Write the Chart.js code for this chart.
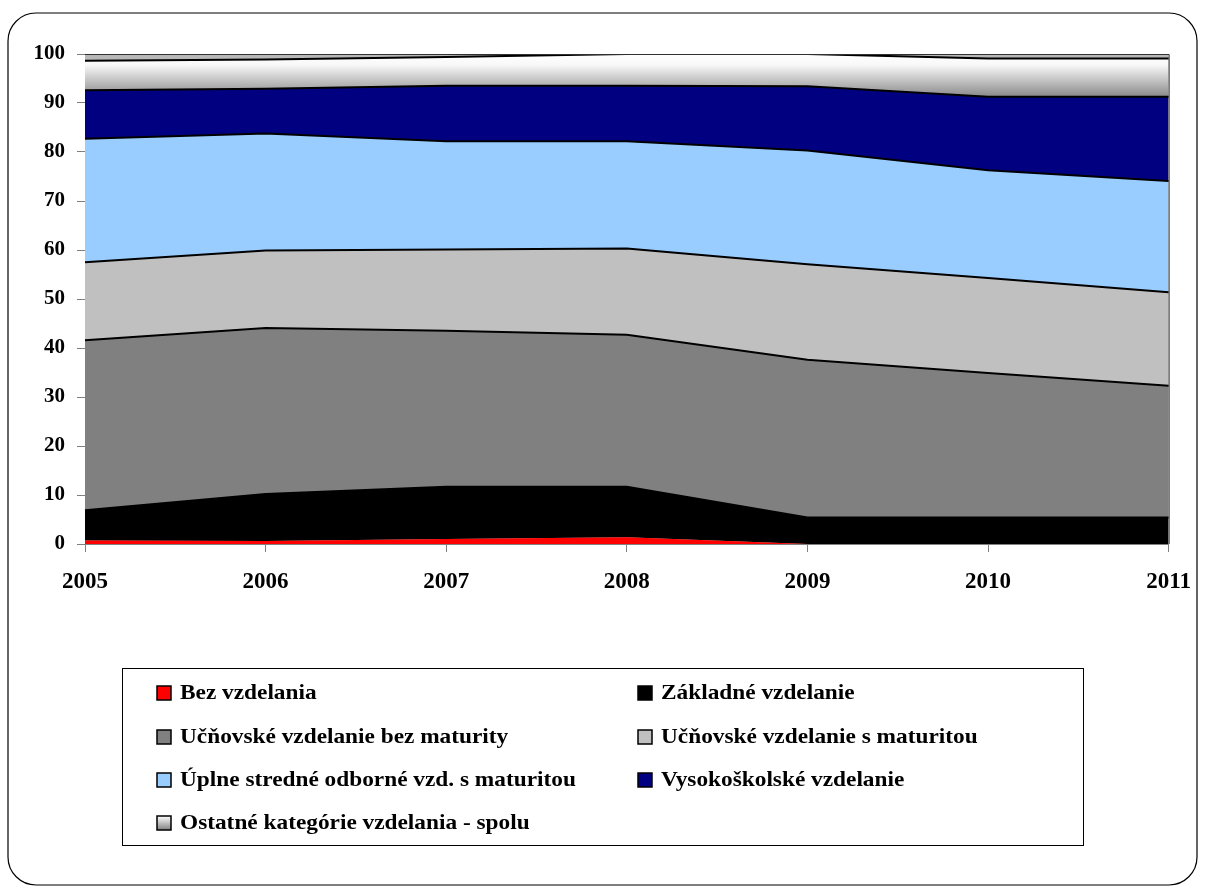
<!DOCTYPE html>
<html>
<head>
<meta charset="utf-8">
<script src="https://cdn.jsdelivr.net/npm/chart.js@4/dist/chart.umd.min.js"></script>
<style>
html,body{margin:0;padding:0;background:#fff;}
canvas{display:block;}
</style>
</head>
<body>
<canvas id="c" width="1207" height="893"></canvas>
<script>
const years = ['2005','2006','2007','2008','2009','2010','2011'];
const bezVzdelania = [0.7, 0.6, 1.0, 1.4, 0, 0, 0];
const zakladne = [6.2, 9.6, 10.7, 10.3, 5.4, 5.4, 5.4];
const ucnBezMat = [34.7, 33.9, 31.8, 31.0, 32.2, 29.5, 26.9];
const ucnSMat = [15.9, 15.8, 16.6, 17.6, 19.5, 19.4, 19.1];
const uplneStredne = [25.2, 23.9, 22.1, 21.9, 23.2, 22.0, 22.7];
const vysokoskolske = [9.9, 9.1, 11.3, 11.3, 13.1, 15.0, 17.2];
const ostatne = [6.0, 6.0, 5.9, 6.5, 6.6, 7.8, 7.8];
const seriesNames = ['Bez vzdelania','Základné vzdelanie','Učňovské vzdelanie bez maturity','Učňovské vzdelanie s maturitou','Úplne stredné odborné vzd. s maturitou','Vysokoškolské vzdelanie','Ostatné kategórie vzdelania - spolu'];
const yTicks = [0,10,20,30,40,50,60,70,80,90,100];

const FONT = '"Liberation Serif","Times New Roman",serif';

function otherGradient(ctx){
  const chart = ctx.chart;
  const ca = chart.chartArea;
  if(!ca) return '#d0d0d0';
  const g = chart.ctx.createLinearGradient(0, ca.top, 0, chart.scales.y.getPixelForValue(91));
  g.addColorStop(0, '#ffffff');
  g.addColorStop(0.25, '#f8f8f8');
  g.addColorStop(1, '#858585');
  return g;
}

const colors = ['#ff0000','#000000','#808080','#c0c0c0','#99ccff','#000080', null];
const seriesData = [bezVzdelania, zakladne, ucnBezMat, ucnSMat, uplneStredne, vysokoskolske, ostatne];

const datasets = seriesData.map((d,i)=>({
  label: seriesNames[i],
  data: d,
  backgroundColor: colors[i] === null ? otherGradient : colors[i],
  borderColor: i===0 ? 'rgba(0,0,0,0)' : '#000000',
  borderWidth: i===0 ? 0 : 2,
  pointRadius: 0,
  tension: 0,
  fill: i===0 ? 'origin' : '-1'
}));

const framePlugin = {
  id:'frame',
  beforeDraw(chart){
    const c = chart.ctx;
    c.save();
    c.fillStyle='#fff';
    c.fillRect(0,0,chart.width,chart.height);
    const x=8,y=13,w=1189,h=872,r=28;
    c.beginPath();
    c.moveTo(x+r,y);
    c.lineTo(x+w-r,y);
    c.arcTo(x+w,y,x+w,y+r,r);
    c.lineTo(x+w,y+h-r);
    c.arcTo(x+w,y+h,x+w-r,y+h,r);
    c.lineTo(x+r,y+h);
    c.arcTo(x,y+h,x,y+h-r,r);
    c.lineTo(x,y+r);
    c.arcTo(x,y,x+r,y,r);
    c.closePath();
    c.lineWidth=1.2;
    c.strokeStyle='#000';
    c.stroke();
    c.restore();
  },
  beforeDatasetsDraw(chart){
    const c = chart.ctx, ca = chart.chartArea;
    c.save();
    c.fillStyle='#b8b8b8';
    c.fillRect(ca.left, ca.top, ca.right-ca.left, ca.bottom-ca.top);
    c.restore();
  },
  afterDatasetsDraw(chart){
    const c = chart.ctx, ca = chart.chartArea;
    c.save();
    c.strokeStyle='#303030';
    c.lineWidth=1;
    c.beginPath();
    c.moveTo(ca.left, ca.top+0.5);
    c.lineTo(ca.right+0.5, ca.top+0.5);
    c.lineTo(ca.right+0.5, ca.bottom);
    c.stroke();
    c.restore();
  },
  afterDraw(chart){
    const c = chart.ctx;
    c.save();
    const bx=122, by=668, bw=961, bh=177;
    c.strokeStyle='#000';
    c.lineWidth=1;
    c.strokeRect(bx+0.5, by+0.5, bw, bh);
    c.font = 'bold 21px ' + FONT;
    c.textBaseline='middle';
    c.textAlign='left';
    const colX=[157, 638];
    const rowY=[693, 737, 780, 823];
    chart.data.datasets.forEach((ds,i)=>{
      const col=i%2, row=Math.floor(i/2);
      const sx=colX[col], sy=rowY[row]-7;
      let fill = colors[i];
      if(fill===null){
        const g=c.createLinearGradient(0,sy,0,sy+14);
        g.addColorStop(0,'#ffffff');
        g.addColorStop(1,'#808080');
        fill=g;
      }
      c.fillStyle=fill;
      c.fillRect(sx, sy, 14, 14);
      c.strokeStyle='#000';
      c.lineWidth=1.5;
      c.strokeRect(sx, sy, 14, 14);
      c.fillStyle='#000';
      c.save();
      c.translate(sx+23, rowY[row]+1);
      c.scale(1.11, 1);
      c.fillText(ds.label, 0, 0);
      c.restore();
    });
    c.restore();
  }
};

new Chart(document.getElementById('c'), {
  type:'line',
  data:{ labels: years, datasets },
  options:{
    responsive:false,
    animation:false,
    devicePixelRatio:1,
    layout:{ padding:{ left:0, top:54, right:37, bottom:0 } },
    plugins:{ legend:{display:false}, tooltip:{enabled:false}, filler:{propagate:false} },
    elements:{ line:{ borderJoinStyle:'miter' } },
    scales:{
      x:{
        type:'category',
        offset:false,
        grid:{ display:true, drawOnChartArea:false, drawTicks:true, tickLength:8, color:'#808080', lineWidth:1 },
        border:{ display:true, color:'#808080', width:1 },
        ticks:{ color:'#000', font:{ family:FONT, size:23, weight:'bold' }, padding:16, maxRotation:0, autoSkip:false },
        afterFit(s){ s.height = 349; }
      },
      y:{
        stacked:true,
        min:0, max:100,
        afterBuildTicks(s){ s.ticks = yTicks.map(v=>({value:v})); },
        grid:{ display:true, drawOnChartArea:false, drawTicks:true, tickLength:8, color:'#808080', lineWidth:1 },
        border:{ display:true, color:'#808080', width:1 },
        ticks:{ color:'#000', font:{ family:FONT, size:21, weight:'bold' }, padding:12 },
        afterFit(s){ s.width = 85; }
      }
    }
  },
  plugins:[framePlugin]
});
</script>
</body>
</html>
